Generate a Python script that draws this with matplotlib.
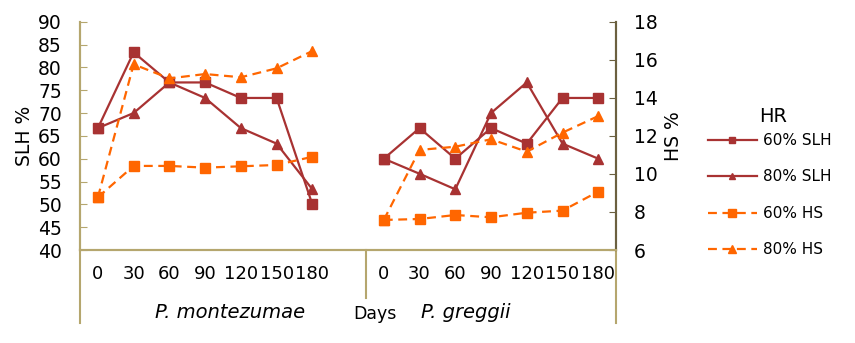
import numpy as np
import matplotlib.pyplot as plt
from matplotlib.transforms import blended_transform_factory

# x categories: 7 days per species, one empty slot between the groups
days = ["0", "30", "60", "90", "120", "150", "180"]
tick_labels = days + [""] + days

nan = np.nan
# SLH % (left axis)
slh_60 = [66.7, 83.3, 76.7, 76.7, 73.3, 73.3, 50.0, nan,
          60.0, 66.7, 60.0, 66.7, 63.3, 73.3, 73.3]
slh_80 = [66.7, 70.0, 76.7, 73.3, 66.7, 63.3, 53.3, nan,
          60.0, 56.7, 53.3, 70.0, 76.7, 63.3, 60.0]
# HS % (right axis)
hs_60 = [8.77, 10.42, 10.42, 10.33, 10.4, 10.47, 10.9, nan,
         7.58, 7.63, 7.84, 7.72, 7.96, 8.07, 9.07]
hs_80 = [8.77, 15.76, 15.02, 15.25, 15.08, 15.55, 16.46, nan,
         7.58, 11.26, 11.43, 11.82, 11.17, 12.17, 13.04]

dark_red = "#A83232"
orange = "#FF6600"
olive = "#B5A66E"
dark_olive = "#6B6040"

fig = plt.figure(figsize=(8.55, 3.43), dpi=100)
ax = fig.add_axes([0.0936, 0.2711, 0.627, 0.6656])
ax2 = ax.twinx()

x = np.arange(len(tick_labels))

l1, = ax.plot(x, slh_60, color=dark_red, lw=1.6, marker="s", ms=6.5,
              label="60% SLH", zorder=3)
l2, = ax.plot(x, slh_80, color=dark_red, lw=1.6, marker="^", ms=6.5,
              label="80% SLH", zorder=3)
l3, = ax2.plot(x, hs_60, color=orange, lw=1.6, ls=(0, (4, 2.5)), marker="s",
               ms=7.5, label="60% HS")
l4, = ax2.plot(x, hs_80, color=orange, lw=1.6, ls=(0, (4, 2.5)), marker="^",
               ms=7, label="80% HS")

ax.set_xlim(-0.5, 14.5)
ax.set_ylim(40, 90)
ax.set_yticks(range(40, 91, 5))
ax2.set_ylim(6, 18)
ax2.set_yticks(range(6, 19, 2))

ax.set_xticks(x)
ax.set_xticklabels(tick_labels, fontsize=13)
ax.tick_params(axis="x", length=0, pad=11)
ax.tick_params(axis="y", direction="in", length=5, color=olive,
               labelsize=13.5, pad=13)
ax2.tick_params(axis="y", direction="in", length=5, color=dark_olive,
                labelsize=13.5, pad=13)

for a in (ax, ax2):
    a.spines["top"].set_visible(False)
    a.spines["bottom"].set_color(olive)
    a.spines["left"].set_color(olive)
    a.spines["right"].set_color(dark_olive)
    for s in a.spines.values():
        s.set_linewidth(1.5)
ax.patch.set_visible(False)

ax.set_ylabel("SLH %", fontsize=13.5, labelpad=3)
ax2.set_ylabel("HS %", fontsize=13.5, rotation=90, labelpad=4)

# category group separators below the axis
tr = blended_transform_factory(ax.transData, ax.transAxes)
for xs, bottom in [(-0.5, -0.32), (7.5, -0.21), (14.5, -0.32)]:
    ax.plot([xs, xs], [0, bottom], transform=tr, color=olive, lw=1.5,
            clip_on=False)

ax.text(3.7, -0.275, "P. montezumae", transform=tr, ha="center",
        va="center", fontsize=14, style="italic")
ax.text(7.76, -0.28, "Days", transform=tr, ha="center", va="center",
        fontsize=12.5)
ax.text(10.28, -0.275, "P. greggii", transform=tr, ha="center",
        va="center", fontsize=14, style="italic")

fig.text(773 / 855, 1 - 117 / 343, "HR", ha="center", va="center",
         fontsize=14)
fig.legend(handles=[l1, l2, l3, l4], loc="center left",
           bbox_to_anchor=(0.8117, 0.431), frameon=False, fontsize=11,
           labelspacing=1.41, handlelength=3.2, handletextpad=0.4,
           markerscale=0.75)

fig.savefig("out.png", dpi=100)
